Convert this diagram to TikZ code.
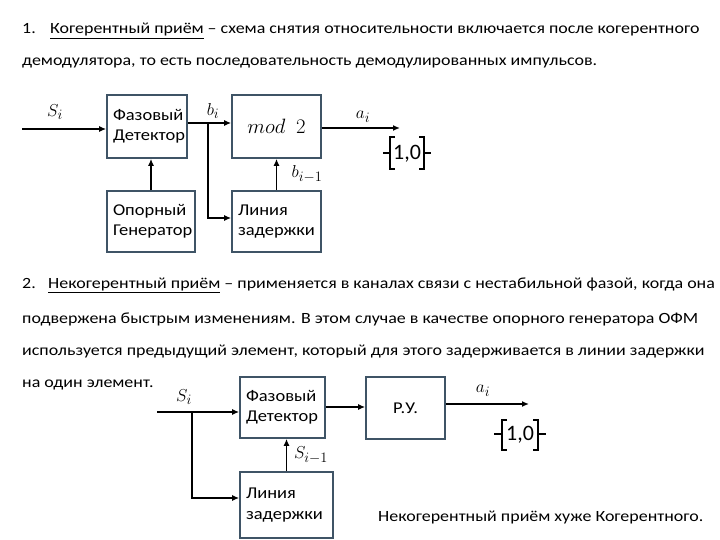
\documentclass[tikz,border=0pt]{standalone}
\usepackage{fontspec}
\setmainfont{Carlito}
\newfontfamily\bodyfont[FakeStretch=1.15]{Carlito}
\newfontfamily\boxfont[FakeStretch=1.12]{Carlito}
\usetikzlibrary{arrows.meta}
\definecolor{boxc}{HTML}{3F5466}
\tikzset{
  blk/.style={draw=boxc, line width=1.6pt, align=left, font=\boxfont\fontsize{16.5}{20.5}\selectfont, inner xsep=6pt, inner ysep=0pt},
  conn/.style={line width=1.4pt, -{Latex[length=7pt,width=6pt]}},
  lbl/.style={font=\fontsize{19}{19}\selectfont, inner sep=0pt},
  body/.style={anchor=base west, font=\bodyfont\fontsize{15.6}{18}\selectfont, inner sep=0pt},
  brk/.style={line width=1.3pt},
  num/.style={font=\fontsize{22}{22}\selectfont, inner sep=0pt}
}
\begin{document}
\begin{tikzpicture}[x=1pt,y=-1pt]
\useasboundingbox (0,0) rectangle (720,540);
\fill[white] (0,0) rectangle (720,540);

% text block 1
\node[body] (n1) at (22,34) {1.};
\node[body] (t1) at (50,34) {\underline{Когерентный приём} – схема снятия относительности включается после когерентного};
\node[body] (t2) at (22,66) {демодулятора, то есть последовательность демодулированных импульсов.};

% diagram 1
\node[blk, minimum width=80pt, minimum height=63pt, text width=68pt] (pd1) at (147,126.5) {Фазовый\\Детектор};
\node[blk, minimum width=89pt, minimum height=63pt, align=center] (mod) at (276.5,126.5) {\fontsize{21}{21}\selectfont$mod\ \ 2$};
\node[blk, minimum width=88pt, minimum height=61pt, text width=76pt] (og) at (151,221.5) {Опорный\\Генератор};
\node[blk, minimum width=89pt, minimum height=61pt, text width=77pt] (ld1) at (276.5,221.5) {Линия\\задержки};

\coordinate (in1) at (22,129);
\coordinate (br1) at (208,123);
\coordinate (out1) at (400,128);
\draw[conn] (in1) -- (in1 -| pd1.west);
\draw[conn] (pd1.east |- br1) -- (mod.west |- br1);
\draw[conn] (br1) -- (208,218) -- (ld1.west |- 0,218);
\draw[conn] (og.north) -- (og.north |- pd1.south);
\draw[conn] (ld1.north) -- (ld1.north |- mod.south);
\draw[conn] (mod.east |- out1) -- (out1);

\node[lbl] (s1) at (55,112) {$S_i$};
\node[lbl] (b1) at (213,111) {$b_i$};
\node[lbl] (b2) at (307,174) {$b_{i-1}$};
\node[lbl] (a1) at (363,117) {$a_i$};

% {1,0} set 1
\node[num] (set1) at (407,154) {1,0};
\draw[brk] (395,137) -- (390,137) -- (390,169) -- (395,169);
\draw[brk] (383,153) -- (390,153);
\draw[brk] (419,137) -- (424,137) -- (424,169) -- (419,169);
\draw[brk] (424,153) -- (431,153);

% text block 2
\node[body] (n2) at (22,288) {2.};
\node[body] (t3) at (48,288) {\underline{Некогерентный приём} – применяется в каналах связи с нестабильной фазой, когда она};
\node[body] (t4) at (22,323) {подвержена быстрым изменениям. В этом случае в качестве опорного генератора ОФМ};
\node[body] (t5) at (22,355) {используется предыдущий элемент, который для этого задерживается в линии задержки};
\node[body] (t6) at (22,387) {на один элемент.};

% diagram 2
\node[blk, minimum width=85pt, minimum height=61pt, text width=73pt] (pd2) at (282.5,407.5) {Фазовый\\Детектор};
\node[blk, minimum width=79pt, minimum height=62pt, align=center] (ry) at (405.5,408) {Р.У.};
\node[blk, minimum width=93pt, minimum height=66pt, text width=81pt] (ld2) at (286.5,505) {Линия\\задержки};

\coordinate (in2) at (157,412);
\coordinate (br2) at (192,412);
\coordinate (out2) at (529,404);
\draw[conn] (in2) -- (in2 -| pd2.west);
\draw[conn] (br2) -- (192,498) -- (ld2.west |- 0,498);
\draw[conn] (ld2.north) -- (ld2.north |- pd2.south);
\draw[conn] (pd2.east |- 0,407) -- (ry.west |- 0,407);
\draw[conn] (ry.east |- out2) -- (out2);

\node[lbl] (s2) at (184,397) {$S_i$};
\node[lbl] (s3) at (311,455) {$S_{i-1}$};
\node[lbl] (a2) at (483,391) {$a_i$};

% {1,0} set 2
\node[num] (set2) at (520,435) {1,0};
\draw[brk] (507,420) -- (502,420) -- (502,450) -- (507,450);
\draw[brk] (494,434) -- (502,434);
\draw[brk] (533,420) -- (538,420) -- (538,450) -- (533,450);
\draw[brk] (538,434) -- (546,434);

\node[body] (fin) at (378,521) {Некогерентный приём хуже Когерентного.};
\end{tikzpicture}
\end{document}
